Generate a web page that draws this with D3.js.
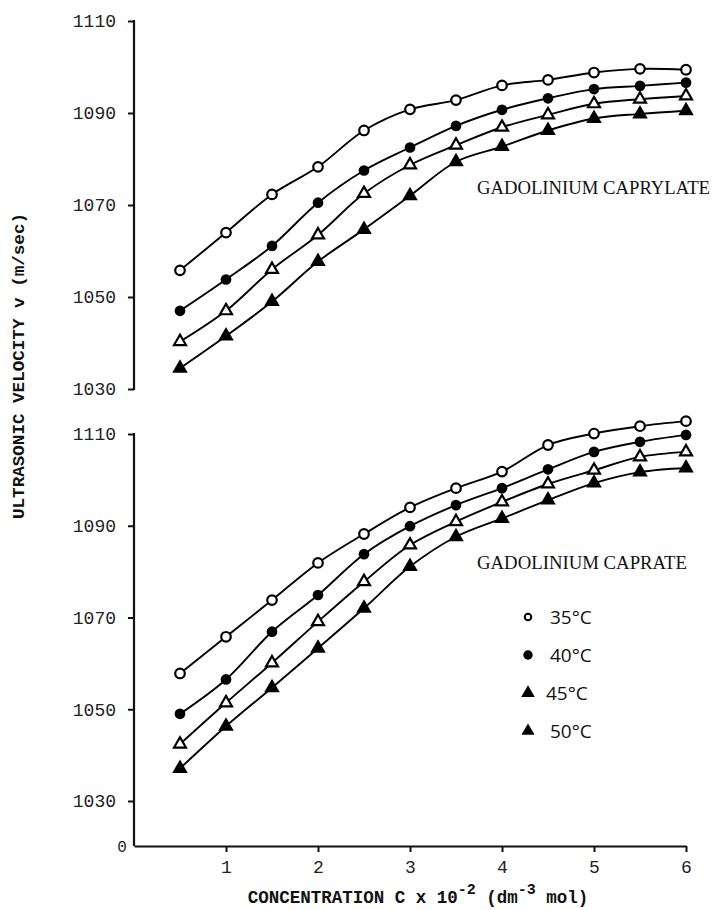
<!DOCTYPE html>
<html>
<head>
<meta charset="utf-8">
<script src="https://cdn.jsdelivr.net/npm/d3@7"></script>
<style>
  body { margin: 0; background: #fff; }
  svg { display: block; }
  .tick text { font-family: "Liberation Mono", monospace; font-size: 18px; fill: #222; }
  .lbl { font-family: "Liberation Mono", monospace; font-weight: bold; fill: #111; }
  .ttl { font-family: "Liberation Serif", serif; fill: #111; }
</style>
</head>
<body>
<script>
// concentration C x 10^-2 (dm^-3 mol)
var conc = [0.5, 1, 1.5, 2, 2.5, 3, 3.5, 4, 4.5, 5, 5.5, 6];
var temps = ["35°C", "40°C", "45°C", "50°C"];

// gadolinium caprylate, velocity m/sec
var caprylate35 = [1055.8, 1064.0, 1072.3, 1078.3, 1086.2, 1090.8, 1092.8, 1096.0, 1097.2, 1098.8, 1099.6, 1099.4];
var caprylate40 = [1047.0, 1053.8, 1061.1, 1070.5, 1077.5, 1082.5, 1087.2, 1090.7, 1093.2, 1095.2, 1095.9, 1096.6];
var caprylate45 = [1040.3, 1047.0, 1056.0, 1063.5, 1072.5, 1078.7, 1083.0, 1086.9, 1089.6, 1092.0, 1093.0, 1093.7];
var caprylate50 = [1034.5, 1041.5, 1049.0, 1057.7, 1064.7, 1072.0, 1079.4, 1082.7, 1086.2, 1088.8, 1089.8, 1090.5];

// gadolinium caprate
var caprate35 = [1057.8, 1065.8, 1073.8, 1081.9, 1088.2, 1094.0, 1098.2, 1101.8, 1107.6, 1110.1, 1111.7, 1112.8];
var caprate40 = [1049.0, 1056.5, 1066.9, 1074.9, 1083.8, 1089.9, 1094.5, 1098.2, 1102.3, 1106.1, 1108.3, 1109.8];
var caprate45 = [1042.4, 1051.4, 1060.1, 1069.1, 1077.8, 1085.8, 1090.9, 1095.2, 1099.1, 1102.1, 1105.0, 1106.1];
var caprate50 = [1037.1, 1046.3, 1054.7, 1063.3, 1072.0, 1081.1, 1087.6, 1091.6, 1095.6, 1099.3, 1101.7, 1102.6];

var yTicks = [1030, 1050, 1070, 1090, 1110];
var xTicks = [1, 2, 3, 4, 5, 6];

var width = 713, height = 910;
var svg = d3.select("body").append("svg")
    .attr("width", width)
    .attr("height", height);

var x = d3.scaleLinear().domain([0, 6]).range([134, 686]);
var yTop = d3.scaleLinear().domain([1030, 1110]).range([389, 21]);
var yBot = d3.scaleLinear().domain([1030, 1110]).range([801, 434]);
var axisY0 = 846; // x axis of lower panel (labelled 0)

// marker per temperature
var markers = [
    { shape: d3.symbolCircle, size: 72, fill: "#fff", stroke: 2.2 },
    { shape: d3.symbolCircle, size: 90, fill: "#000", stroke: 0 },
    { shape: d3.symbolTriangle, size: 62, fill: "#fff", stroke: 2.2 },
    { shape: d3.symbolTriangle, size: 105, fill: "#000", stroke: 0 }
];

function drawPanel(y, series, bottomEnd) {
    var g = svg.append("g");

    // y axis
    var ax = g.append("g")
        .attr("transform", "translate(" + x(0) + ",0)")
        .call(d3.axisLeft(y).tickValues(yTicks).tickFormat(d3.format("d")).tickSize(6).tickSizeOuter(0).tickPadding(12));
    ax.select(".domain").remove();
    ax.selectAll(".tick line").attr("stroke", "#111").attr("stroke-width", 2);
    g.append("line")
        .attr("x1", x(0)).attr("x2", x(0))
        .attr("y1", y(1110) - 1).attr("y2", bottomEnd)
        .attr("stroke", "#111").attr("stroke-width", 2.2);

    var line = d3.line()
        .x(function(d) { return x(d[0]); })
        .y(function(d) { return y(d[1]); })
        .curve(d3.curveCatmullRom.alpha(0.5));

    series.forEach(function(vals, i) {
        var pts = conc.map(function(c, j) { return [c, vals[j]]; });
        g.append("path")
            .attr("d", line(pts))
            .attr("fill", "none")
            .attr("stroke", "#000")
            .attr("stroke-width", 1.9);
        var m = markers[i];
        g.selectAll(".m" + i)
            .data(pts)
            .enter().append("path")
            .attr("transform", function(d) { return "translate(" + x(d[0]) + "," + y(d[1]) + ")"; })
            .attr("d", d3.symbol().type(m.shape).size(m.size))
            .attr("fill", m.fill)
            .attr("stroke", "#000")
            .attr("stroke-width", m.stroke);
    });
    return g;
}

drawPanel(yTop, [caprylate35, caprylate40, caprylate45, caprylate50], yTop(1030) + 1);
drawPanel(yBot, [caprate35, caprate40, caprate45, caprate50], axisY0);

// x axis
var xa = svg.append("g")
    .attr("transform", "translate(0," + axisY0 + ")")
    .call(d3.axisBottom(x).tickValues(xTicks).tickFormat(d3.format("d")).tickSize(6).tickSizeOuter(0).tickPadding(8));
xa.select(".domain").attr("stroke", "#111").attr("stroke-width", 2.2);
xa.selectAll(".tick line").attr("stroke", "#111").attr("stroke-width", 2);

svg.append("text")
    .attr("x", 122).attr("y", axisY0 + 6)
    .attr("text-anchor", "middle")
    .style("font-family", "Liberation Mono, monospace")
    .style("font-size", "16px")
    .style("fill", "#222")
    .text("0");

// panel titles
svg.append("text").attr("class", "ttl")
    .attr("x", 477).attr("y", 194)
    .attr("textLength", 233).attr("lengthAdjust", "spacingAndGlyphs")
    .style("font-size", "19px")
    .text("GADOLINIUM CAPRYLATE");
svg.append("text").attr("class", "ttl")
    .attr("x", 477).attr("y", 569)
    .attr("textLength", 210).attr("lengthAdjust", "spacingAndGlyphs")
    .style("font-size", "19px")
    .text("GADOLINIUM CAPRATE");

// legend
var legendMarkers = [
    { shape: d3.symbolCircle, size: 34, fill: "#fff", stroke: 2 },
    { shape: d3.symbolCircle, size: 70, fill: "#000", stroke: 0 },
    { shape: d3.symbolTriangle, size: 80, fill: "#000", stroke: 0 },
    { shape: d3.symbolTriangle, size: 75, fill: "#000", stroke: 0 }
];
var leg = svg.append("g").selectAll("g")
    .data(temps)
    .enter().append("g")
    .attr("transform", function(d, i) { return "translate(528," + (617 + i * 38) + ")"; });
leg.append("path")
    .attr("d", function(d, i) { return d3.symbol().type(legendMarkers[i].shape).size(legendMarkers[i].size)(); })
    .attr("fill", function(d, i) { return legendMarkers[i].fill; })
    .attr("stroke", "#000")
    .attr("stroke-width", function(d, i) { return legendMarkers[i].stroke; });
leg.append("text")
    .attr("x", function(d, i) { return i == 2 ? 18 : 22; })
    .attr("y", 7)
    .style("font-family", "Open Sans, sans-serif")
    .style("font-size", "19px")
    .style("fill", "#111")
    .text(function(d) { return d; });

// axis titles
svg.append("text").attr("class", "lbl")
    .attr("transform", "translate(24,366) rotate(-90)")
    .attr("text-anchor", "middle")
    .attr("textLength", 306).attr("lengthAdjust", "spacingAndGlyphs")
    .style("font-size", "17px")
    .text("ULTRASONIC VELOCITY v (m/sec)");

var xl = svg.append("text").attr("class", "lbl")
    .attr("x", 418).attr("y", 903)
    .attr("text-anchor", "middle")
    .style("font-size", "17.5px");
xl.append("tspan").text("CONCENTRATION C x 10");
xl.append("tspan").attr("dy", -9).style("font-size", "15px").text("-2");
xl.append("tspan").attr("dy", 9).text(" (dm");
xl.append("tspan").attr("dy", -9).style("font-size", "15px").text("-3");
xl.append("tspan").attr("dy", 9).text(" mol)");
</script>
</body>
</html>
